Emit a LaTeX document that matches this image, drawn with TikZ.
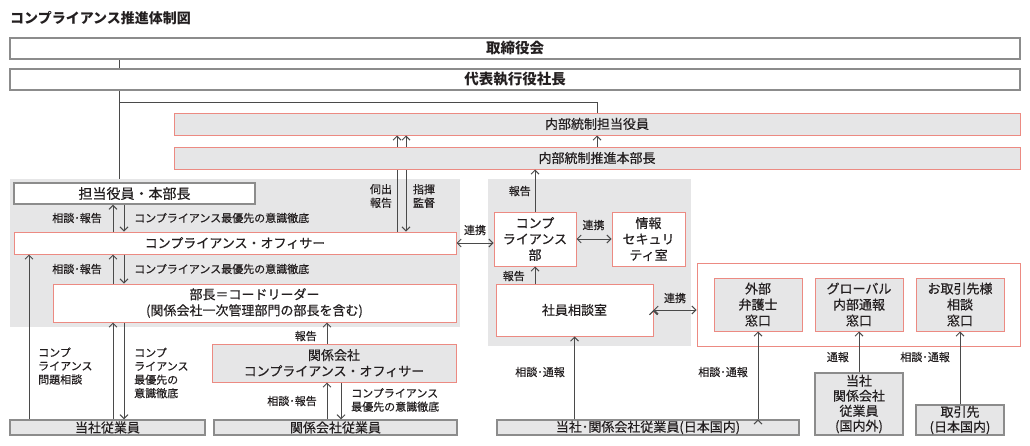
\documentclass[tikz,border=0pt]{standalone}
\usepackage{fontspec}
\setmainfont{Noto Sans CJK JP}[FakeBold=0.4,BoldFeatures={FakeBold=0}]
\usetikzlibrary{arrows.meta}
\usetikzlibrary{positioning}

\definecolor{boxgray}{HTML}{E6E6E7}
\definecolor{boxred}{HTML}{EC8A82}
\definecolor{rulegray}{HTML}{8C8C8C}
\definecolor{linegray}{HTML}{4A4A4A}
\definecolor{inkgray}{HTML}{231F20}

\tikzset{
  sz/.style 2 args={minimum width=#1pt,minimum height=#2pt},
  box/.style={draw=rulegray,line width=1.2pt,fill=white,inner sep=0pt,
    align=center,text=inkgray,font=\fontsize{13}{16}\selectfont},
  topbox/.style={box,line width=1.5pt,font=\fontsize{14.5}{17}\bfseries\selectfont},
  redbox/.style={box,draw=boxred,line width=1pt},
  graybox/.style={box,fill=boxgray},
  redgray/.style={redbox,fill=boxgray},
  area/.style={fill=boxgray,draw=none,inner sep=0pt},
  note/.style={inner sep=0pt,align=left,text=inkgray,font=\fontsize{11}{13.5}\selectfont},
  link/.style={draw=linegray,line width=1pt},
  >={Straight Barb[length=4pt,width=8pt]}
}

\begin{document}
\begin{tikzpicture}[x=1pt,y=-1pt]
  \useasboundingbox (0,0) rectangle (1030,445);

  % shaded groups
  \node[area,sz={450}{148}] (a_left) at (235,253) {};
  \node[area,sz={203}{167}] (a_mid) at (589.5,262.5) {};
  \node[redbox,sz={323}{83}] (a_desk) at (858.5,304.5) {};

  \node[anchor=west,inner sep=0pt,text=inkgray,
      font=\fontsize{14}{16}\bfseries\selectfont] (t_title) at (10,18) {コンプライアンス推進体制図};

  \node[topbox,sz={1010}{21}] (b_board) at (515,48.5) {取締役会};
  \node[topbox,sz={1010}{21}] (b_ceo) at (515,79.5) {代表執行役社長};
  \node[redgray,sz={846}{22}] (b_icexec) at (597,124) {内部統制担当役員};
  \node[redbox,sz={442}{22}] (b_cco) at (235,243) {コンプライアンス・オフィサー};

  \coordinate (x_spine) at (119,0);
  \coordinate (p_branch) at (119,102);
  \coordinate (x_ask) at (397,0);
  \coordinate (x_cmd) at (406,0);
  \coordinate (x_a) at (113,0);
  \coordinate (x_b) at (124,0);
  \coordinate (x_c) at (29,0);
  \coordinate (x_g) at (327,0);
  \coordinate (x_h) at (341,0);

  % these pass behind the next box
  \path[link,->]
    (b_cco.north -| x_ask) edge (b_icexec.south -| x_ask)
    (b_icexec.south -| x_cmd) edge (b_cco.north -| x_cmd);

  \node[redgray,sz={846}{22}] (b_icdir) at (597,158) {内部統制推進本部長};

  \node[box,sz={241}{21},font=\fontsize{14}{16}\selectfont] (b_execs) at (134.5,193.5) {担当役員・本部長};
  \node[redbox,sz={403}{38}] (b_lead) at (254.5,303) {部長＝コードリーダー\\(関係会社一次管理部門の部長を含む)};
  \node[graybox,sz={195}{15}] (b_empl) at (107.5,427.5) {当社従業員};
  \node[graybox,sz={243}{15}] (b_grpempl) at (335.5,427.5) {関係会社従業員};
  \node[redgray,sz={244}{38}] (b_grpcco) at (334,363) {関係会社\\コンプライアンス・オフィサー};

  \node[redbox,sz={82}{54}] (b_dept) at (535,239) {コンプ\\ライアンス\\部};
  \node[redbox,sz={73}{54}] (b_sec) at (648.5,239) {情報\\セキュリ\\ティ室};
  \node[redbox,sz={157}{52}] (b_desk) at (574.5,310) {社員相談室};
  \node[graybox,sz={302}{15}] (b_domempl) at (648,427.5) {当社･関係会社従業員(日本国内)};

  \node[redgray,sz={88}{53}] (b_lawyer) at (758,304.5) {外部\\弁護士\\窓口};
  \node[redgray,sz={88}{53}] (b_global) at (859,304.5) {グローバル\\内部通報\\窓口};
  \node[redgray,sz={88}{53}] (b_partner) at (960,304.5) {お取引先様\\相談\\窓口};
  \node[graybox,sz={88}{62},font=\fontsize{13}{15}\selectfont] (b_allempl) at (859,404) {当社\\関係会社\\従業員\\(国内外)};
  \node[graybox,sz={88}{30},font=\fontsize{13}{15}\selectfont] (b_supp) at (960,420) {取引先\\(日本国内)};

  % labels
  \node[note,align=center] (l_ask) at (381,196) {伺出\\報告};
  \node[note,align=center] (l_cmd) at (424,196) {指揮\\監督};
  \node[note,anchor=east] (l_r1) at (102,218) {相談･報告};
  \node[note,anchor=west] (l_d1) at (134,218) {コンプライアンス最優先の意識徹底};
  \node[note,anchor=east] (l_r2) at (102,269) {相談･報告};
  \node[note,anchor=west] (l_d2) at (134,269) {コンプライアンス最優先の意識徹底};
  \node[note,anchor=west] (l_q) at (38,366) {コンプ\\ライアンス\\問題相談};
  \node[note,anchor=west] (l_d3) at (134,373) {コンプ\\ライアンス\\最優先の\\意識徹底};
  \node[note,anchor=east] (l_r3) at (317,336) {報告};
  \node[note,anchor=east] (l_r4) at (317,401) {相談･報告};
  \node[note,anchor=west] (l_d4) at (351,400) {コンプライアンス\\最優先の意識徹底};
  \node[note] (l_k1) at (475,230) {連携};
  \node[note] (l_k2) at (593.5,225) {連携};
  \node[note] (l_k3) at (675,298) {連携};
  \node[note,anchor=east] (l_r5) at (531,191) {報告};
  \node[note,anchor=east] (l_r6) at (525,276) {報告};
  \node[note,anchor=east] (l_c1) at (565,372) {相談･通報};
  \node[note,anchor=east] (l_c2) at (748,372) {相談･通報};
  \node[note,anchor=east] (l_n1) at (849,357) {通報};
  \node[note,anchor=east] (l_c3) at (950,357) {相談･通報};

  \draw[link] (b_board.south -| x_spine) -- (b_ceo.north -| x_spine);
  \draw[link] (b_ceo.south -| x_spine) -- (a_left.north -| x_spine);
  \draw[link] (p_branch) -| (b_icexec.north);

  \path[link,->]
    (b_cco.north -| x_a) edge (b_execs.south -| x_a)
    (b_execs.south -| x_b) edge (b_cco.north -| x_b)
    (b_lead.north -| x_a) edge (b_cco.south -| x_a)
    (b_cco.south -| x_b) edge (b_lead.north -| x_b)
    (b_empl.north -| x_a) edge (b_lead.south -| x_a)
    (b_lead.south -| x_b) edge (b_empl.north -| x_b)
    (b_empl.north -| x_c) edge (b_cco.south -| x_c)
    (b_grpcco.north -| x_g) edge (b_lead.south -| x_g)
    (b_grpempl.north -| x_g) edge (b_grpcco.south -| x_g)
    (b_grpcco.south -| x_h) edge (b_grpempl.north -| x_h)
    (b_icdir) edge (b_icexec)
    (b_dept.north) edge (b_dept.north |- b_icdir.south)
    (b_desk.north -| b_dept) edge (b_dept.south)
    (b_domempl.north -| b_desk) edge (b_desk.south)
    (b_domempl.north -| b_lawyer) edge (b_lawyer.south)
    (b_allempl) edge (b_global)
    (b_supp) edge (b_partner);
  \path[link,<->]
    (b_cco.east) edge (b_cco.east -| b_dept.west)
    (b_dept) edge (b_sec)
    (b_desk.east) edge (b_desk.east -| a_desk.west);
\end{tikzpicture}
\end{document}
